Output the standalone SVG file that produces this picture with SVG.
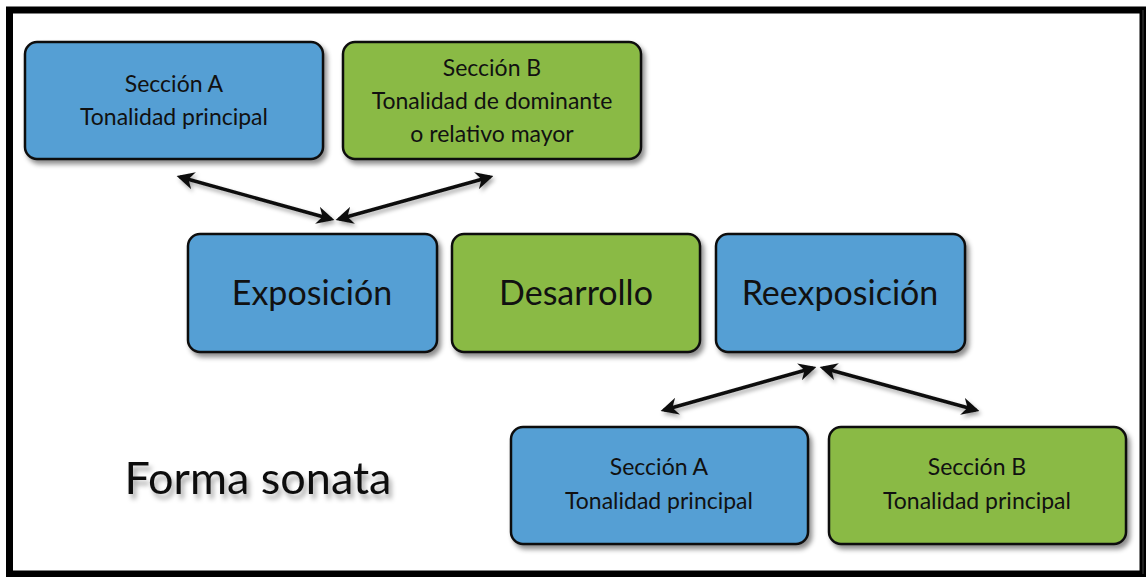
<svg xmlns="http://www.w3.org/2000/svg" width="1146" height="577" viewBox="0 0 1146 577">
<style>
.box{stroke:#111;stroke-width:2.5;filter:url(#sh)}
.blue{fill:#559fd4}
.green{fill:#8aba45}
.t{font-family:Lato,"Open Sans",sans-serif;fill:#111;text-anchor:middle}
.s{font-size:23px}
.l{font-size:34px}
.conn{stroke:#111;stroke-width:3.5;fill:none;marker-start:url(#ah);marker-end:url(#ah);filter:url(#sh2)}
</style>
<defs>
<filter id="sh" x="-10%" y="-10%" width="130%" height="140%">
<feDropShadow dx="3" dy="4" stdDeviation="2.5" flood-color="#000" flood-opacity="0.45"/>
</filter>
<filter id="sh2" x="-10%" y="-50%" width="130%" height="200%">
<feDropShadow dx="2" dy="3" stdDeviation="2" flood-color="#000" flood-opacity="0.35"/>
</filter>
<filter id="sh3" x="-10%" y="-30%" width="130%" height="170%">
<feDropShadow dx="3" dy="5" stdDeviation="2.5" flood-color="#000" flood-opacity="0.35"/>
</filter>
<marker id="ah" viewBox="0 0 10 10" refX="8" refY="5" markerWidth="5" markerHeight="5" orient="auto-start-reverse" markerUnits="strokeWidth">
<path d="M0,0 L10,5 L0,10 L3,5 Z" fill="#111"/>
</marker>
</defs>
<g id="frame">
<rect x="0" y="0" width="1146" height="577" fill="#fff"/>
<rect x="9.5" y="10" width="1133.5" height="564" fill="#fff" stroke="#000" stroke-width="7"/>
<rect x="1142" y="10" width="2" height="564" fill="#222"/>
</g>
<g id="connectors">
<line class="conn" x1="331" y1="219" x2="180" y2="177"/>
<line class="conn" x1="339" y1="219" x2="490" y2="177"/>
<line class="conn" x1="813" y1="368" x2="664" y2="410"/>
<line class="conn" x1="823" y1="368" x2="976" y2="410"/>
</g>
<g id="secA-top">
<rect class="box blue" x="25" y="42" width="298" height="117" rx="12"/>
<text class="t s" x="174" y="92">Sección A</text>
<text class="t s" x="174" y="125">Tonalidad principal</text>
</g>
<g id="secB-top">
<rect class="box green" x="343" y="42" width="298" height="117" rx="12"/>
<text class="t s" x="492" y="76">Sección B</text>
<text class="t s" x="492" y="109">Tonalidad de dominante</text>
<text class="t s" x="492" y="142">o relativo mayor</text>
</g>
<g id="exposicion">
<rect class="box blue" x="188" y="234" width="249" height="118" rx="12"/>
<text class="t l" x="312" y="305">Exposición</text>
</g>
<g id="desarrollo">
<rect class="box green" x="452" y="234" width="248" height="118" rx="12"/>
<text class="t l" x="576" y="305">Desarrollo</text>
</g>
<g id="reexposicion">
<rect class="box blue" x="716" y="234" width="249" height="118" rx="12"/>
<text class="t l" x="840" y="305">Reexposición</text>
</g>
<g id="secA-bottom">
<rect class="box blue" x="511" y="427" width="297" height="117" rx="12"/>
<text class="t s" x="659" y="475">Sección A</text>
<text class="t s" x="659" y="509">Tonalidad principal</text>
</g>
<g id="secB-bottom">
<rect class="box green" x="829" y="427" width="297" height="117" rx="12"/>
<text class="t s" x="977" y="475">Sección B</text>
<text class="t s" x="977" y="509">Tonalidad principal</text>
</g>
<g id="title">
<text class="t" x="258" y="494" style="font-size:45px;filter:url(#sh3)">Forma sonata</text>
</g>
</svg>
